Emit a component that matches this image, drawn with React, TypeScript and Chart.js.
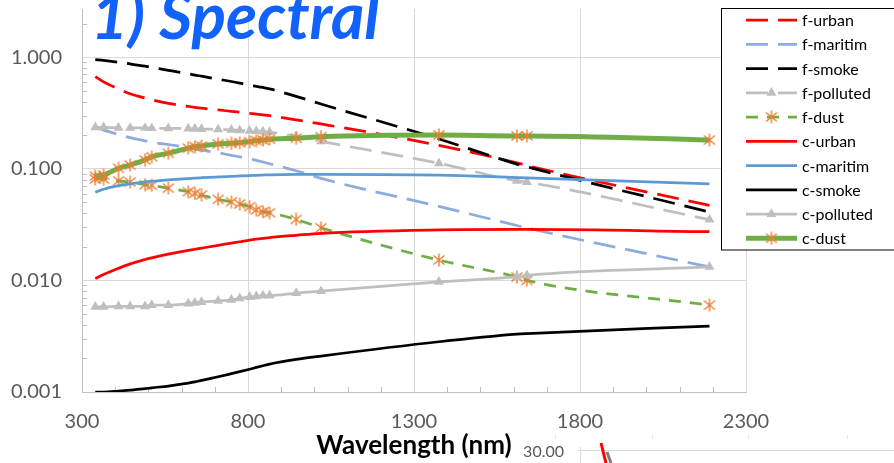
import { useEffect, useRef } from 'react';
import { Chart, registerables } from 'chart.js';

Chart.register(...registerables);

const wavelengths = [340, 365, 410, 445, 490, 510, 560, 620, 640, 660, 710, 750, 775, 805, 825, 845, 865, 945, 1020, 1375, 1610, 1640, 2190];

const fUrban = [0.67, 0.6, 0.52, 0.47, 0.43, 0.415, 0.385, 0.362, 0.355, 0.349, 0.337, 0.327, 0.321, 0.314, 0.309, 0.304, 0.299, 0.274, 0.252, 0.162, 0.113, 0.107, 0.047];
const fMaritim = [0.235, 0.222, 0.203, 0.19, 0.178, 0.173, 0.165, 0.154, 0.15, 0.147, 0.139, 0.132, 0.128, 0.123, 0.119, 0.115, 0.111, 0.096, 0.082, 0.046, 0.031, 0.0295, 0.0132];
const fSmoke = [0.95, 0.935, 0.9, 0.87, 0.83, 0.81, 0.76, 0.71, 0.69, 0.675, 0.635, 0.605, 0.585, 0.56, 0.548, 0.535, 0.52, 0.445, 0.38, 0.185, 0.11, 0.104, 0.041];
const fPolluted = [0.235, 0.235, 0.233, 0.232, 0.232, 0.231, 0.23, 0.229, 0.228, 0.227, 0.225, 0.223, 0.221, 0.219, 0.217, 0.215, 0.213, 0.195, 0.176, 0.112, 0.078, 0.076, 0.035];
const fDust = [0.081, 0.081, 0.078, 0.076, 0.072, 0.071, 0.067, 0.0623, 0.0603, 0.0582, 0.0532, 0.0506, 0.0483, 0.0457, 0.0427, 0.0412, 0.0404, 0.0352, 0.0296, 0.0152, 0.0107, 0.01, 0.006];
const cUrban = [0.0104, 0.01127, 0.01282, 0.01406, 0.01538, 0.01592, 0.01718, 0.01858, 0.01901, 0.01945, 0.0206, 0.02158, 0.02218, 0.02296, 0.02339, 0.02377, 0.02415, 0.02535, 0.02642, 0.0283, 0.02858, 0.02858, 0.02729];
const cMaritim = [0.0615, 0.0655, 0.0705, 0.0733, 0.0762, 0.0772, 0.0795, 0.0818, 0.0825, 0.0831, 0.0845, 0.0856, 0.0862, 0.0869, 0.0874, 0.0878, 0.0882, 0.089, 0.0893, 0.0875, 0.0835, 0.083, 0.0732];
const cSmoke = [0.001, 0.001, 0.00102, 0.00104, 0.00107, 0.00109, 0.00113, 0.0012, 0.00123, 0.00127, 0.00137, 0.00146, 0.00152, 0.0016, 0.00166, 0.00172, 0.00178, 0.00196, 0.0021, 0.00282, 0.0033, 0.00334, 0.0039];
const cPolluted = [0.0058, 0.0058, 0.00585, 0.00585, 0.00585, 0.006, 0.006, 0.0062, 0.0063, 0.0064, 0.00655, 0.0067, 0.0069, 0.0071, 0.0072, 0.0073, 0.0073, 0.0077, 0.008, 0.0097, 0.0108, 0.0111, 0.0132];
const cDust = [0.086, 0.088, 0.101, 0.108, 0.12, 0.128, 0.138, 0.153, 0.158, 0.16, 0.167, 0.169, 0.171, 0.175, 0.179, 0.181, 0.184, 0.188, 0.194, 0.201, 0.197, 0.197, 0.181];

const seriesLabels = ['f-urban', 'f-maritim', 'f-smoke', 'f-polluted', 'f-dust', 'c-urban', 'c-maritim', 'c-smoke', 'c-polluted', 'c-dust'];

const xTickValues = [300, 800, 1300, 1800, 2300];
const xTickLabels = ['300', '800', '1300', '1800', '2300'];
const xMinorStep = 100;
const yTickValues = [0.001, 0.01, 0.1, 1];
const yTickLabels = ['0.001', '0.010', '0.100', '1.000'];

const FONT = 'Lato, "Open Sans", "DejaVu Sans", sans-serif';
const RED = '#ff0000';
const LBLUE = '#8faadc';
const BLUE = '#5b9bd5';
const BLACK = '#000000';
const GRAY = '#bfbfbf';
const GREEN = '#70ad47';
const ORANGE = '#ed7d31';
const LONG_DASH = [22, 10];
const SHORT_DASH = [12, 9];

function makeAsterisk(): HTMLCanvasElement {
  const c = document.createElement('canvas');
  c.width = 14;
  c.height = 14;
  const g = c.getContext('2d')!;
  g.strokeStyle = ORANGE;
  g.lineWidth = 1.4;
  g.beginPath();
  g.moveTo(7, 0.5);
  g.lineTo(7, 13.5);
  g.moveTo(1.5, 2.5);
  g.lineTo(12.5, 11.5);
  g.moveTo(12.5, 2.5);
  g.lineTo(1.5, 11.5);
  g.stroke();
  return c;
}

type Marker = 'none' | 'tri' | 'star';

function drawTriangle(ctx: CanvasRenderingContext2D, x: number, y: number, r: number, color: string) {
  ctx.save();
  ctx.setLineDash([]);
  ctx.fillStyle = color;
  ctx.beginPath();
  for (let k = 0; k < 3; k++) {
    const a = (k * 2 * Math.PI) / 3;
    const px = x + Math.sin(a) * r;
    const py = y - Math.cos(a) * r;
    if (k === 0) ctx.moveTo(px, py);
    else ctx.lineTo(px, py);
  }
  ctx.closePath();
  ctx.fill();
  ctx.restore();
}

export default function App() {
  const ref = useRef<HTMLCanvasElement | null>(null);

  useEffect(() => {
    if (!ref.current) return;
    const star = makeAsterisk();
    const markers: Marker[] = ['none', 'none', 'none', 'tri', 'star', 'none', 'none', 'none', 'tri', 'star'];
    const values = [fUrban, fMaritim, fSmoke, fPolluted, fDust, cUrban, cMaritim, cSmoke, cPolluted, cDust];
    const colors = [RED, LBLUE, BLACK, GRAY, GREEN, RED, BLUE, BLACK, GRAY, GREEN];
    const dashes = [LONG_DASH, LONG_DASH, LONG_DASH, LONG_DASH, SHORT_DASH, [], [], [], [], []];
    const widths = [2.75, 2.75, 2.75, 2.75, 2.75, 2.75, 2.75, 2.75, 2.75, 5];

    const datasets = values.map((vals, i) => {
      const m = markers[i];
      return {
        label: seriesLabels[i],
        data: wavelengths.map((x, j) => ({ x, y: vals[j] })),
        borderColor: colors[i],
        backgroundColor: colors[i],
        borderWidth: widths[i],
        borderDash: dashes[i],
        pointRadius: m === 'none' ? 0 : 5.8,
        pointStyle: m === 'star' ? star : 'triangle',
        pointBackgroundColor: m === 'tri' ? GRAY : ORANGE,
        pointBorderColor: m === 'tri' ? GRAY : ORANGE,
        pointBorderWidth: 0,
        cubicInterpolationMode: 'monotone' as const,
        fill: false,
        order: 20 - i,
        _marker: m,
      };
    });

    const decor = {
      id: 'decor',
      beforeDatasetsDraw(chart: any) {
        const { ctx, chartArea: a, scales } = chart;
        const x = scales.x;
        const y = scales.y;
        ctx.save();
        ctx.strokeStyle = GRAY;
        ctx.lineWidth = 1;
        ctx.setLineDash([]);
        ctx.beginPath();
        for (const d of yTickValues) {
          for (let k = 2; k <= 9; k++) {
            const v = d * k;
            if (v > y.max) continue;
            const py = Math.round(y.getPixelForValue(v)) + 0.5;
            ctx.moveTo(a.left, py);
            ctx.lineTo(a.left + 5, py);
          }
        }
        for (let v = xTickValues[0] + xMinorStep; v < xTickValues[xTickValues.length - 1]; v += xMinorStep) {
          if (xTickValues.includes(v)) continue;
          const px = Math.round(x.getPixelForValue(v)) + 0.5;
          ctx.moveTo(px, a.bottom);
          ctx.lineTo(px, a.bottom - 5);
        }
        ctx.stroke();
        ctx.restore();
      },
      afterDraw(chart: any) {
        const { ctx } = chart;
        ctx.save();
        // title
        ctx.font = `italic bold 64px ${FONT}`;
        ctx.fillStyle = '#1062fb';
        ctx.textBaseline = 'alphabetic';
        ctx.textAlign = 'left';
        ctx.fillText('1) Spectral', 91, 39);

        // legend
        const lx = 721.5;
        const ly = 8.5;
        ctx.fillStyle = '#ffffff';
        ctx.fillRect(lx, ly, 200, 241.5);
        ctx.strokeStyle = '#000000';
        ctx.lineWidth = 1;
        ctx.setLineDash([]);
        ctx.strokeRect(lx, ly, 200, 241.5);
        ctx.font = `16px ${FONT}`;
        ctx.textBaseline = 'middle';
        chart.data.datasets.forEach((ds: any, i: number) => {
          const cy = 20 + i * 24.25;
          ctx.save();
          ctx.strokeStyle = ds.borderColor;
          ctx.lineWidth = ds.borderWidth;
          ctx.setLineDash(ds.borderDash || []);
          ctx.beginPath();
          ctx.moveTo(746, cy);
          ctx.lineTo(797, cy);
          ctx.stroke();
          ctx.restore();
          if (ds._marker === 'tri') drawTriangle(ctx, 771.5, cy, 5.8, GRAY);
          if (ds._marker === 'star') ctx.drawImage(ds.pointStyle, 771.5 - 7, cy - 7);
          ctx.fillStyle = '#000000';
          ctx.fillText(ds.label, 802, cy + 1);
        });

        // fragment of the chart below
        ctx.font = `16px ${FONT}`;
        ctx.fillStyle = '#595959';
        ctx.textAlign = 'right';
        ctx.textBaseline = 'middle';
        ctx.fillText('30.00', 564, 452);
        ctx.strokeStyle = '#d9d9d9';
        ctx.lineWidth = 1;
        ctx.beginPath();
        ctx.moveTo(578, 450.5);
        ctx.lineTo(894, 450.5);
        ctx.moveTo(580.5, 447);
        ctx.lineTo(580.5, 463);
        ctx.stroke();
        ctx.strokeStyle = '#e6e6e6';
        ctx.beginPath();
        for (const px of [555.5, 652.5, 748.5, 847.5]) {
          ctx.moveTo(px, 435);
          ctx.lineTo(px, 439);
        }
        ctx.stroke();
        ctx.lineWidth = 3;
        ctx.strokeStyle = RED;
        ctx.beginPath();
        ctx.moveTo(601, 443);
        ctx.lineTo(606, 463);
        ctx.stroke();
        ctx.strokeStyle = '#7f7f7f';
        ctx.beginPath();
        ctx.moveTo(607, 452);
        ctx.lineTo(611, 463);
        ctx.stroke();
        ctx.restore();
      },
    };

    const chart = new Chart(ref.current, {
      type: 'line',
      data: { datasets: datasets as any },
      options: {
        responsive: true,
        maintainAspectRatio: false,
        animation: false,
        events: [],
        layout: { padding: { top: 9, right: 148, bottom: 0, left: 0 } },
        plugins: {
          legend: { display: false },
          tooltip: { enabled: false },
          title: { display: false },
        },
        scales: {
          x: {
            type: 'linear',
            min: xTickValues[0],
            max: xTickValues[xTickValues.length - 1],
            afterBuildTicks: (s: any) => {
              s.ticks = xTickValues.map((v) => ({ value: v }));
            },
            afterFit: (s: any) => {
              s.height = 71;
              s.paddingLeft = 0;
              s.paddingRight = 0;
            },
            ticks: {
              callback: (_v: any, i: number) => xTickLabels[i],
              color: '#595959',
              font: { family: FONT, size: 20 },
              padding: 18,
              maxRotation: 0,
            },
            grid: { color: '#d9d9d9', lineWidth: 1, drawTicks: false },
            border: { color: GRAY, width: 1 },
            title: {
              display: true,
              text: 'Wavelength (nm)',
              color: '#000000',
              font: { family: FONT, size: 26, weight: 'bold' },
              padding: { top: 0, bottom: 2 },
            },
          },
          y: {
            type: 'logarithmic',
            min: yTickValues[0],
            max: 2.7,
            afterBuildTicks: (s: any) => {
              s.ticks = yTickValues.map((v) => ({ value: v }));
            },
            afterFit: (s: any) => {
              s.width = 82;
              s.paddingTop = 0;
              s.paddingBottom = 0;
            },
            ticks: {
              callback: (_v: any, i: number) => yTickLabels[i],
              color: '#595959',
              font: { family: FONT, size: 20 },
              padding: 20,
            },
            grid: { color: '#d9d9d9', lineWidth: 1, drawTicks: false },
            border: { color: GRAY, width: 1 },
          },
        },
      },
      plugins: [decor],
    });
    return () => chart.destroy();
  }, []);

  return (
    <div style={{ position: 'fixed', left: 0, top: 0, width: 894, height: 463, background: '#fff' }}>
      <canvas ref={ref} />
    </div>
  );
}
